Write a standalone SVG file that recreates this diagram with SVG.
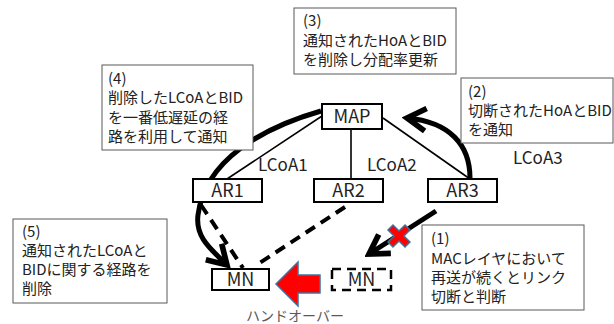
<svg xmlns="http://www.w3.org/2000/svg" width="614" height="324" viewBox="0 0 614 324">
  <style>
    text { font-family: "Noto Sans CJK JP", "Liberation Sans", sans-serif; fill: #222; }
    .node rect { fill: #fff; stroke: #000; stroke-width: 2; }
    .node text { font-size: 18px; text-anchor: middle; }
    .note rect { fill: #fff; stroke: #595959; stroke-width: 1; }
    .note text { font-size: 15px; }
    .link { stroke: #000; stroke-width: 1.6; fill: none; }
    .label { font-size: 17px; }
    .flow { stroke: #000; stroke-width: 5; fill: none; }
    .dash { stroke: #000; stroke-width: 4; fill: none; stroke-dasharray: 11 7; }
  </style>
  <defs>
    <marker id="open" markerUnits="userSpaceOnUse" markerWidth="30" markerHeight="30" viewBox="-20 -12 24 24" refX="0" refY="0" orient="auto">
      <path d="M-15,-9 L0,0 L-15,9" fill="none" stroke="#000" stroke-width="4.5" stroke-linejoin="miter"/>
    </marker>
  </defs>

  <!-- network links -->
  <g id="connectors">
    <line class="link" x1="322" y1="116" x2="227" y2="179"/>
    <line class="link" x1="351" y1="129" x2="351" y2="179"/>
    <line class="link" x1="383" y1="118" x2="470" y2="179"/>
    <text class="label" x="258" y="171">LCoA1</text>
    <text class="label" x="367" y="171">LCoA2</text>
    <text class="label" x="513" y="164">LCoA3</text>

    <!-- new paths toward the MN -->
    <line class="dash" x1="345" y1="207" x2="255" y2="266"/>
    <line class="dash" x1="201" y1="205" x2="243" y2="268"/>

    <!-- (4) notification along the lowest-delay path -->
    <path class="flow" d="M321,111 C262,128 205,160 198,215 C195,238 212,250 227,265" marker-end="url(#open)"/>
    <!-- (2) notification from AR3 to MAP -->
    <path class="flow" d="M470,178 C470,145 450,122 407,118" marker-end="url(#open)"/>
    <!-- (1) broken link AR3 -> MN -->
    <line class="flow" stroke-width="4.5" x1="436" y1="211" x2="369" y2="254" marker-end="url(#open)"/>
    <!-- link break mark -->
    <g transform="translate(399,236) rotate(45)">
      <path d="M-3.5,-12 H3.5 V-3.5 H12 V3.5 H3.5 V12 H-3.5 V3.5 H-12 V-3.5 H-3.5 Z" fill="#ff0000" stroke="#41719c" stroke-width="1.5"/>
    </g>
    <!-- handover arrow -->
    <polygon points="276,284 298,262 298,275 320,275 320,293 298,293 298,306" fill="#ff0000" stroke="#41719c" stroke-width="1.5"/>
    <text x="295" y="321" font-size="14" text-anchor="middle" style="fill:#595959">ハンドオーバー</text>
  </g>

  <!-- nodes -->
  <g id="map" class="node">
    <rect x="322" y="104" width="60" height="25"/>
    <text x="352" y="123">MAP</text>
  </g>
  <g id="ar1" class="node">
    <rect x="193" y="179" width="69" height="23"/>
    <text x="227.5" y="197">AR1</text>
  </g>
  <g id="ar2" class="node">
    <rect x="314" y="179" width="69" height="23"/>
    <text x="348.5" y="197">AR2</text>
  </g>
  <g id="ar3" class="node">
    <rect x="428" y="179" width="69" height="23"/>
    <text x="462.5" y="197">AR3</text>
  </g>
  <g id="mn" class="node">
    <rect x="212" y="269" width="57" height="21" stroke-width="2.5"/>
    <text x="240.5" y="286">MN</text>
  </g>
  <g id="mn-old" class="node">
    <rect x="332" y="269" width="59" height="21" style="stroke-width:2.5;stroke-dasharray:9 6"/>
    <text x="361.5" y="286">MN</text>
  </g>

  <!-- step notes -->
  <g id="note3" class="note">
    <rect x="294" y="8" width="162" height="66"/>
    <text x="303" y="26">(3)</text>
    <text x="303" y="46">通知されたHoAとBID</text>
    <text x="303" y="65">を削除し分配率更新</text>
  </g>
  <g id="note4" class="note">
    <rect x="102" y="65" width="151" height="85"/>
    <text x="108" y="84">(4)</text>
    <text x="108" y="103">削除したLCoAとBID</text>
    <text x="108" y="123">を一番低遅延の経</text>
    <text x="108" y="142">路を利用して通知</text>
  </g>
  <g id="note2" class="note">
    <rect x="461" y="78" width="152" height="65"/>
    <text x="468" y="97">(2)</text>
    <text x="468" y="116">切断されたHoAとBID</text>
    <text x="468" y="135">を通知</text>
  </g>
  <g id="note5" class="note">
    <rect x="13" y="219" width="154" height="84"/>
    <text x="22" y="237">(5)</text>
    <text x="22" y="256">通知されたLCoAと</text>
    <text x="22" y="275">BIDに関する経路を</text>
    <text x="22" y="294">削除</text>
  </g>
  <g id="note1" class="note">
    <rect x="422" y="225" width="162" height="85"/>
    <text x="431" y="244">(1)</text>
    <text x="431" y="264">MACレイヤにおいて</text>
    <text x="431" y="283">再送が続くとリンク</text>
    <text x="431" y="302">切断と判断</text>
  </g>
</svg>
